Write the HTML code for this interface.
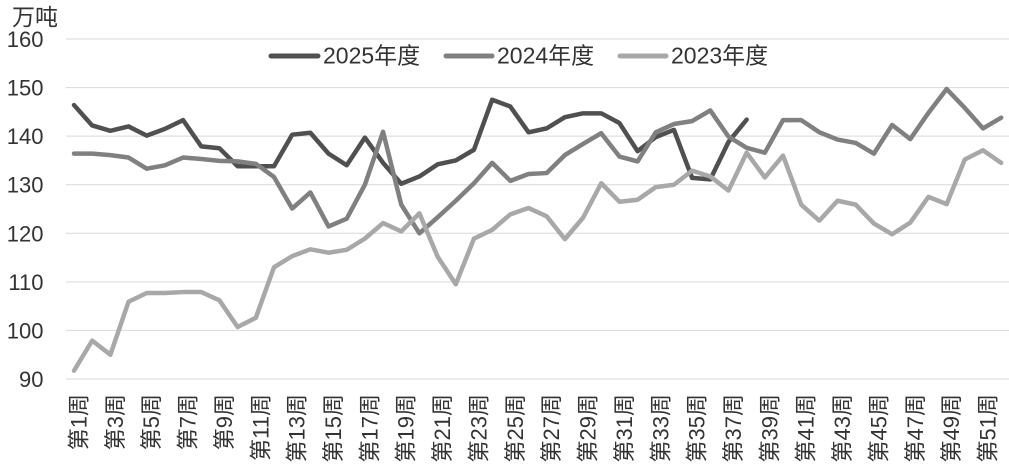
<!DOCTYPE html>
<html>
<head>
<meta charset="utf-8">
<style>
  html, body { margin: 0; padding: 0; background: #ffffff; }
  body { width: 1009px; height: 473px; overflow: hidden; }
  svg { display: block; }
  text { font-family: "Liberation Sans", "Noto Sans CJK SC", sans-serif; fill: #333333; }
</style>
</head>
<body>
<svg width="1009" height="473" viewBox="0 0 1009 473" xmlns="http://www.w3.org/2000/svg">
  <!-- gridlines -->
  <g stroke="#d9d9d9" stroke-width="1">
    <line x1="66" y1="39" x2="1009" y2="39"/>
    <line x1="66" y1="87.6" x2="1009" y2="87.6"/>
    <line x1="66" y1="136.1" x2="1009" y2="136.1"/>
    <line x1="66" y1="184.7" x2="1009" y2="184.7"/>
    <line x1="66" y1="233.3" x2="1009" y2="233.3"/>
    <line x1="66" y1="281.9" x2="1009" y2="281.9"/>
    <line x1="66" y1="330.4" x2="1009" y2="330.4"/>
    <line x1="66" y1="379" x2="1009" y2="379"/>
  </g>

  <!-- unit -->
  <text x="12" y="25" font-size="23">万吨</text>

  <!-- y labels -->
  <g font-size="22" text-anchor="end">
    <text x="43.5" y="47">160</text>
    <text x="43.5" y="95.6">150</text>
    <text x="43.5" y="144.1">140</text>
    <text x="43.5" y="192.7">130</text>
    <text x="43.5" y="241.3">120</text>
    <text x="43.5" y="289.9">110</text>
    <text x="43.5" y="338.4">100</text>
    <text x="43.5" y="387">90</text>
  </g>

  <!-- legend -->
  <g stroke-width="5" stroke-linecap="round">
    <line x1="271" y1="56" x2="318" y2="56" stroke="#505050"/>
    <line x1="446" y1="56" x2="492" y2="56" stroke="#808080"/>
    <line x1="620" y1="56" x2="666" y2="56" stroke="#a8a8a8"/>
  </g>
  <g font-size="23">
    <text x="323" y="63.5">2025年度</text>
    <text x="497" y="63.5">2024年度</text>
    <text x="671" y="63.5">2023年度</text>
  </g>

  <!-- series -->
  <g transform="matrix(18.18 0 0 -4.857 55.82 816.13)" fill="none" stroke-linejoin="round" stroke-linecap="round">
    <polyline vector-effect="non-scaling-stroke" stroke="#505050" stroke-width="4.5"
      points="1,146.4 2,142.2 3,141.1 4,142.0 5,140.1 6,141.5 7,143.3 8,137.9 9,137.5 10,133.8 11,133.8 12,133.8 13,140.3 14,140.7 15,136.4 16,134.0 17,139.7 18,134.5 19,130.2 20,131.7 21,134.2 22,135.0 23,137.2 24,147.5 25,146.1 26,140.8 27,141.6 28,143.9 29,144.7 30,144.7 31,142.7 32,136.9 33,139.8 34,141.3 35,131.4 36,131.1 37,138.8 38,143.4"/>
    <polyline vector-effect="non-scaling-stroke" stroke="#808080" stroke-width="4.5"
      points="1,136.4 2,136.4 3,136.1 4,135.6 5,133.3 6,134.0 7,135.6 8,135.3 9,134.9 10,134.8 11,134.3 12,131.6 13,125.1 14,128.4 15,121.4 16,123.0 17,130.0 18,140.9 19,125.9 20,120.0 21,123.3 22,126.7 23,130.3 24,134.5 25,130.8 26,132.2 27,132.4 28,136.1 29,138.4 30,140.6 31,135.8 32,134.8 33,140.8 34,142.5 35,143.1 36,145.3 37,139.9 38,137.6 39,136.6 40,143.3 41,143.3 42,140.8 43,139.3 44,138.6 45,136.4 46,142.3 47,139.4 48,144.8 49,149.7 50,145.8 51,141.6 52,143.8"/>
    <polyline vector-effect="non-scaling-stroke" stroke="#a8a8a8" stroke-width="4.5"
      points="1,91.7 2,97.9 3,95.0 4,105.9 5,107.7 6,107.7 7,107.9 8,107.9 9,106.2 10,100.7 11,102.6 12,113.0 13,115.3 14,116.7 15,116.0 16,116.6 17,118.9 18,122.1 19,120.4 20,124.1 21,115.2 22,109.5 23,118.9 24,120.7 25,123.9 26,125.2 27,123.5 28,118.8 29,123.2 30,130.3 31,126.5 32,126.9 33,129.5 34,130.0 35,132.9 36,131.7 37,128.8 38,136.6 39,131.5 40,136.0 41,125.9 42,122.6 43,126.7 44,125.9 45,122.0 46,119.8 47,122.2 48,127.5 49,126.0 50,135.2 51,137.1 52,134.5"/>
  </g>

  <!-- x labels (rotated) -->
  <g font-size="22" text-anchor="end" dominant-baseline="central">
    <text transform="translate(79,394) rotate(-90)">第1周</text>
    <text transform="translate(115.4,394) rotate(-90)">第3周</text>
    <text transform="translate(151.7,394) rotate(-90)">第5周</text>
    <text transform="translate(188.1,394) rotate(-90)">第7周</text>
    <text transform="translate(224.4,394) rotate(-90)">第9周</text>
    <text transform="translate(260.8,394) rotate(-90)">第11周</text>
    <text transform="translate(297.2,394) rotate(-90)">第13周</text>
    <text transform="translate(333.5,394) rotate(-90)">第15周</text>
    <text transform="translate(369.9,394) rotate(-90)">第17周</text>
    <text transform="translate(406.2,394) rotate(-90)">第19周</text>
    <text transform="translate(442.6,394) rotate(-90)">第21周</text>
    <text transform="translate(479,394) rotate(-90)">第23周</text>
    <text transform="translate(515.3,394) rotate(-90)">第25周</text>
    <text transform="translate(551.7,394) rotate(-90)">第27周</text>
    <text transform="translate(588,394) rotate(-90)">第29周</text>
    <text transform="translate(624.4,394) rotate(-90)">第31周</text>
    <text transform="translate(660.8,394) rotate(-90)">第33周</text>
    <text transform="translate(697.1,394) rotate(-90)">第35周</text>
    <text transform="translate(733.5,394) rotate(-90)">第37周</text>
    <text transform="translate(769.8,394) rotate(-90)">第39周</text>
    <text transform="translate(806.2,394) rotate(-90)">第41周</text>
    <text transform="translate(842.6,394) rotate(-90)">第43周</text>
    <text transform="translate(878.9,394) rotate(-90)">第45周</text>
    <text transform="translate(915.3,394) rotate(-90)">第47周</text>
    <text transform="translate(951.6,394) rotate(-90)">第49周</text>
    <text transform="translate(988,394) rotate(-90)">第51周</text>
  </g>
</svg>
</body>
</html>
